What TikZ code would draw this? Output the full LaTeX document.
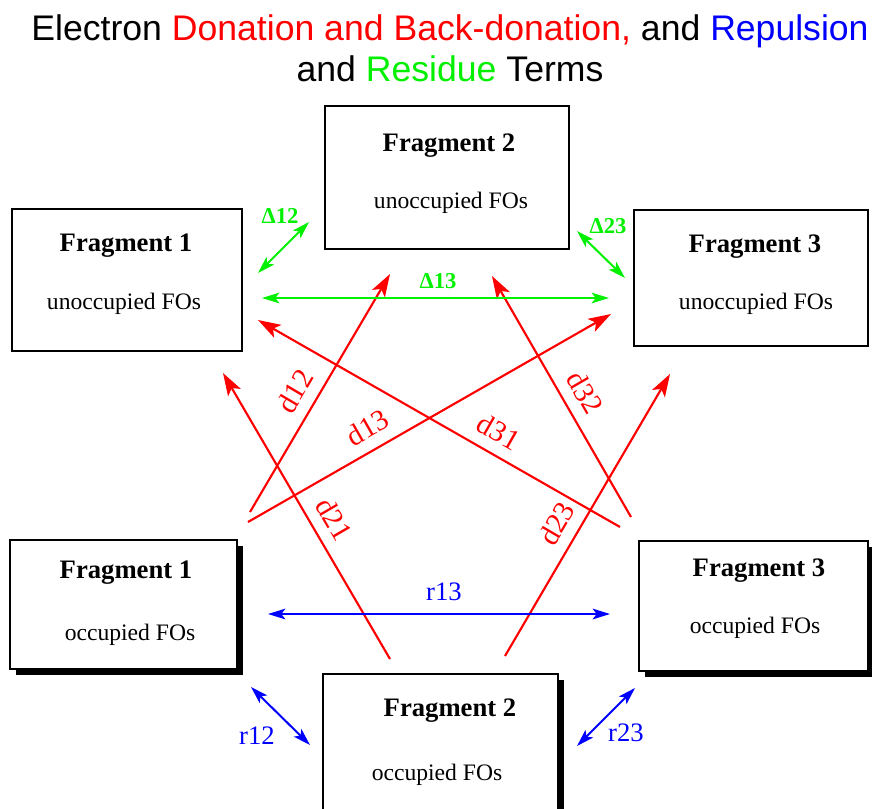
\documentclass[tikz,border=0pt]{standalone}
\usepackage{fontspec}
\setmainfont{Liberation Serif}
\newfontfamily\headfont{Liberation Sans}
\usetikzlibrary{arrows.meta,positioning,shadows}
\definecolor{donred}{RGB}{255,0,0}
\definecolor{resgreen}{RGB}{0,240,0}
\definecolor{repblue}{RGB}{0,0,255}

\begin{document}
\begin{tikzpicture}[x=0.75pt, y=-0.75pt,
    fragbox/.style={draw, line width=1.2pt, fill=white, inner sep=0pt},
    shadowbox/.style={fragbox, drop shadow={shadow xshift=4.5pt, shadow yshift=-4.5pt, fill=black, opacity=1}},
    fragname/.style={font=\fontsize{20}{24}\selectfont\bfseries, yshift=-2.25pt},
    fraginfo/.style={font=\fontsize{17.7}{21}\selectfont, yshift=-2.25pt},
    headline/.style={font=\headfont\fontsize{26.7}{32}\selectfont, anchor=base, inner sep=0pt},
    donate/.style={-{Stealth[length=17pt,width=11pt,inset=4pt]}, donred, line width=1.6pt},
    residue/.style={{Stealth[length=13pt,width=8pt,inset=3pt]}-{Stealth[length=13pt,width=8pt,inset=3pt]}, resgreen, line width=1.5pt},
    repel/.style={{Stealth[length=13pt,width=8pt,inset=3pt]}-{Stealth[length=13pt,width=8pt,inset=3pt]}, repblue, line width=1.5pt},
    dlabel/.style={font=\fontsize{22}{26}\selectfont, text=donred, sloped, above=5pt},
    glabel/.style={font=\fontsize{17}{20}\selectfont\bfseries, text=resgreen},
    blabel/.style={font=\fontsize{20}{24}\selectfont, text=repblue}]
  \useasboundingbox (0,0) rectangle (872,808);
  % Title
  \node[headline] (head1) at (450,40) {Electron \textcolor{donred}{Donation and Back-donation,} and \textcolor{repblue}{Repulsion}};
  \node[headline] (head2) at (450,81) {and \textcolor{resgreen}{Residue} Terms};
  % Unoccupied fragment orbitals
  \foreach \nm/\cx/\cy/\w/\h/\num/\tx/\ty/\fx/\fy in {unocc2/447/177.5/244/143/2/449/143/451/200,
      unocc1/127/280/230/142/1/126/243/124/301, unocc3/751/278/234/136/3/755/244/756/301} {
    \node[fragbox, minimum width=\w*0.75pt, minimum height=\h*0.75pt] (\nm) at (\cx,\cy) {};
    \node[fragname] (\nm-name) at (\tx,\ty) {Fragment \num};
    \node[fraginfo] (\nm-fo) at (\fx,\fy) {unoccupied FOs};
  }
  % Occupied fragment orbitals
  \foreach \nm/\cx/\cy/\w/\h/\num/\tx/\ty/\fx/\fy in {occ1/123.5/604.5/227/129/1/126/570/130/632,
      occ3/753.5/606/229/130/3/759/568/755/625, occ2/440.5/744/235/140/2/450/708/437/772} {
    \node[shadowbox, minimum width=\w*0.75pt, minimum height=\h*0.75pt] (\nm) at (\cx,\cy) {};
    \node[fragname] (\nm-name) at (\tx,\ty) {Fragment \num};
    \node[fraginfo] (\nm-fo) at (\fx,\fy) {occupied FOs};
  }
  % Donation and back-donation
  \foreach \lab/\sx/\sy/\ex/\ey/\p in {d12/250/512/390/274/0.46, d13/248/522/611/314/0.36,
      d21/390/659/223/373/0.45, d31/620/527/258/320/0.365,
      d32/631/517/492/276/0.47, d23/505/656/670/374/0.43} {
    \coordinate (\lab-s) at (\sx,\sy);
    \coordinate (\lab-e) at (\ex,\ey);
    \draw[donate] (\lab-s) -- node[dlabel, pos=\p] {\lab} (\lab-e);
  }
  % Residue terms
  \coordinate (res12-a) at (258,273); \coordinate (res12-b) at (309,222);
  \coordinate (res23-a) at (577,231); \coordinate (res23-b) at (625,278);
  \coordinate (res13-a) at (262,298); \coordinate (res13-b) at (609,298);
  \draw[residue] (res12-a) -- (res12-b);
  \draw[residue] (res23-a) -- (res23-b);
  \draw[residue] (res13-a) -- (res13-b);
  \node[glabel] (res12-l) at (280,216) {Δ12};
  \node[glabel] (res23-l) at (608,226) {Δ23};
  \node[glabel] (res13-l) at (438,281) {Δ13};
  % Repulsion
  \coordinate (rep12-a) at (251,687); \coordinate (rep12-b) at (310,745);
  \coordinate (rep23-a) at (635,688); \coordinate (rep23-b) at (577,746);
  \coordinate (rep13-a) at (268,614); \coordinate (rep13-b) at (610,614);
  \draw[repel] (rep12-a) -- (rep12-b);
  \draw[repel] (rep23-a) -- (rep23-b);
  \draw[repel] (rep13-a) -- (rep13-b);
  \node[blabel] (rep12-l) at (257,736) {r12};
  \node[blabel] (rep23-l) at (626,733) {r23};
  \node[blabel] (rep13-l) at (444,592) {r13};
\end{tikzpicture}
\end{document}
